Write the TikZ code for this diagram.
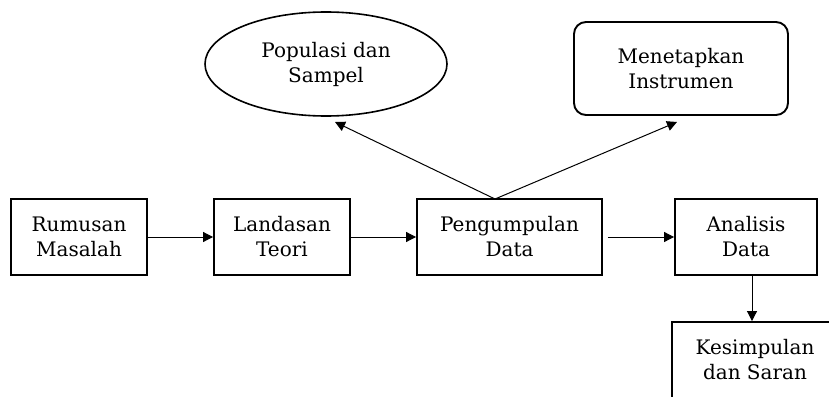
\documentclass[tikz,border=0pt]{standalone}
\usepackage{fontspec}
\setmainfont{DejaVu Serif}
\usetikzlibrary{arrows.meta,shapes.geometric,calc}
\begin{document}
\begin{tikzpicture}[x=1pt,y=1pt,
  txt/.style={font=\fontsize{20}{25}\selectfont, align=center, inner sep=0pt},
  box/.style={txt, draw, line width=1.9pt, rectangle, minimum height=76pt},
  oval/.style={txt, draw, line width=1.6pt, ellipse, minimum width=242pt, minimum height=104pt},
  rbox/.style={txt, draw, line width=1.9pt, rectangle, rounded corners=12pt, minimum width=214pt, minimum height=93pt},
  conn/.style={line width=1pt, -{Triangle[length=10pt,width=10pt]}}]
\useasboundingbox (0,0) rectangle (829,-396);
\clip (0,0) rectangle (829,-396);
\node[box, minimum width=136pt] (rum) at (79,-237) {Rumusan\\Masalah};
\node[box, minimum width=136pt] (lan) at (282,-237) {Landasan\\Teori};
\node[box, minimum width=185pt] (pen) at (509.5,-237) {Pengumpulan\\Data};
\node[box, minimum width=142pt] (ana) at (746,-237) {Analisis\\Data};
\node[box, minimum width=166pt] (kes) at (755,-360) {Kesimpulan\\dan Saran};
\node[oval] (pop) at (326,-64) {Populasi dan\\Sampel};
\node[rbox] (men) at (681,-68.5) {Menetapkan\\Instrumen};
\coordinate (jn) at (495,-199);
\coordinate (tpop) at (335,-122);
\coordinate (tmen) at (677,-122);
\draw[conn] (rum.east) -- (lan.west);
\draw[conn] (lan.east) -- (pen.west);
\draw[conn, shorten <=5pt] (pen.east) -- (ana.west);
\draw[conn] ([xshift=6pt]ana.south) -- ([xshift=-3pt]kes.north);
\draw[conn] (jn) -- (tpop);
\draw[conn] (jn) -- (tmen);
\end{tikzpicture}
\end{document}
